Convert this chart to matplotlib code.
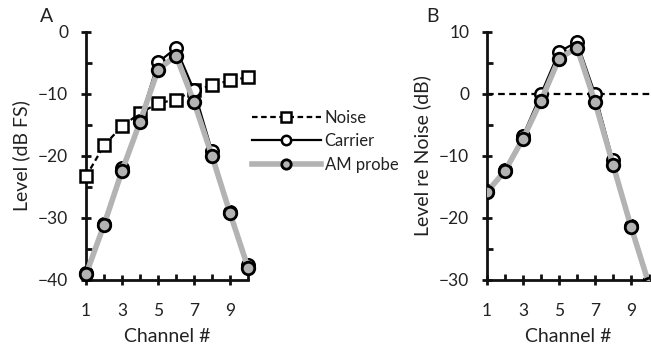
import matplotlib
matplotlib.use("Agg")
import matplotlib.pyplot as plt
from matplotlib.ticker import MultipleLocator, FixedLocator

plt.rcParams['font.family'] = ['Lato', 'DejaVu Sans']

channels = [1, 2, 3, 4, 5, 6, 7, 8, 9, 10]
noise_a = [-23.3, -18.3, -15.2, -13.1, -11.5, -10.9, -9.4, -8.6, -7.8, -7.3]
carrier_a = [-38.9, -31.0, -22.0, -14.3, -4.9, -2.6, -9.4, -19.2, -29.0, -37.6]
probe_a = [-39.1, -31.1, -22.4, -14.5, -6.1, -3.8, -11.3, -20.0, -29.2, -38.0]
carrier_b = [-15.7, -12.3, -6.7, 0.0, 6.8, 8.4, 0.0, -10.7, -21.3, -30.3]
probe_b = [-15.8, -12.4, -7.2, -1.1, 5.7, 7.5, -1.3, -11.4, -21.4, -30.7]
xtick_labels = [1, 3, 5, 7, 9]

W, H = 651, 346
fig = plt.figure(figsize=(W / 100, H / 100), dpi=100)

def rect(l, r, t, b):
    return [l / W, (H - b) / H, (r - l) / W, (b - t) / H]

axA = fig.add_axes(rect(86, 248, 32, 280))
axB = fig.add_axes(rect(487, 649, 32, 280))

gray = '#b3b3b3'
txt = '#222222'
fs_lab = 14
fs_tick = 12.5

def style(ax, ylim, ymaj):
    ax.set_xlim(1, 10)
    ax.set_ylim(*ylim)
    for s in ['top', 'right']:
        ax.spines[s].set_visible(False)
    for s in ['left', 'bottom']:
        ax.spines[s].set_linewidth(2)
        ax.spines[s].set_color('#111111')
    ax.xaxis.set_major_locator(FixedLocator(xtick_labels))
    ax.xaxis.set_minor_locator(FixedLocator([2, 4, 6, 8, 10]))
    ax.yaxis.set_major_locator(MultipleLocator(ymaj))
    ax.yaxis.set_minor_locator(MultipleLocator(ymaj / 2))
    ax.tick_params(which='major', direction='inout', length=7.5, width=2,
                   labelsize=fs_tick, color='#111111', labelcolor=txt)
    ax.tick_params(axis='x', which='major', pad=13)
    ax.tick_params(axis='y', which='major', pad=9)
    ax.tick_params(which='minor', direction='in', length=4, width=2, color='#111111')
    ax.set_xlabel('Channel #', fontsize=fs_lab, labelpad=6, color=txt)

# Panel A
axA.plot(channels, noise_a, ls=(0, (2.5, 1.6)), color='black', lw=1.6, marker='s', ms=9,
         mfc='white', mec='black', mew=1.8, label='Noise', clip_on=False, zorder=3)
axA.plot(channels, carrier_a, ls='-', color='black', lw=1.6, marker='o', ms=9,
         mfc='white', mec='black', mew=1.8, label='Carrier', clip_on=False, zorder=4)
axA.plot(channels, probe_a, ls='-', color=gray, lw=4, marker='o', ms=9,
         mfc=gray, mec='black', mew=2, label='AM probe', clip_on=False, zorder=5)
style(axA, (-40, 0), 10)
axA.set_ylabel('Level (dB FS)', fontsize=fs_lab, labelpad=6, color=txt)
leg = axA.legend(loc='center left', bbox_to_anchor=(0.985, 0.56), frameon=False,
                 fontsize=12, handlelength=4.1, handletextpad=0.25, labelspacing=0.45,
                 borderaxespad=0, markerscale=0.75)
for t in leg.get_texts():
    t.set_color(txt)

# Panel B
axB.plot([1, 10.2], [0, 0], ls=(0, (3, 2)), color='black', lw=1.6, clip_on=False, zorder=2)
axB.plot(channels, carrier_b, ls='-', color='black', lw=1.6, marker='o', ms=9,
         mfc='white', mec='black', mew=1.8, zorder=4)
axB.plot(channels, probe_b, ls='-', color=gray, lw=4, marker='o', ms=9,
         mfc=gray, mec='black', mew=2, zorder=5)
style(axB, (-30, 10), 10)
axB.set_ylabel('Level re Noise (dB)', fontsize=fs_lab, labelpad=6, color=txt)

fig.text(47 / W, 1 - 17 / H, 'A', fontsize=fs_lab, ha='center', va='center', color=txt)
fig.text(432 / W, 1 - 17 / H, 'B', fontsize=fs_lab, ha='center', va='center', color=txt)

fig.savefig('out.png', dpi=100)
